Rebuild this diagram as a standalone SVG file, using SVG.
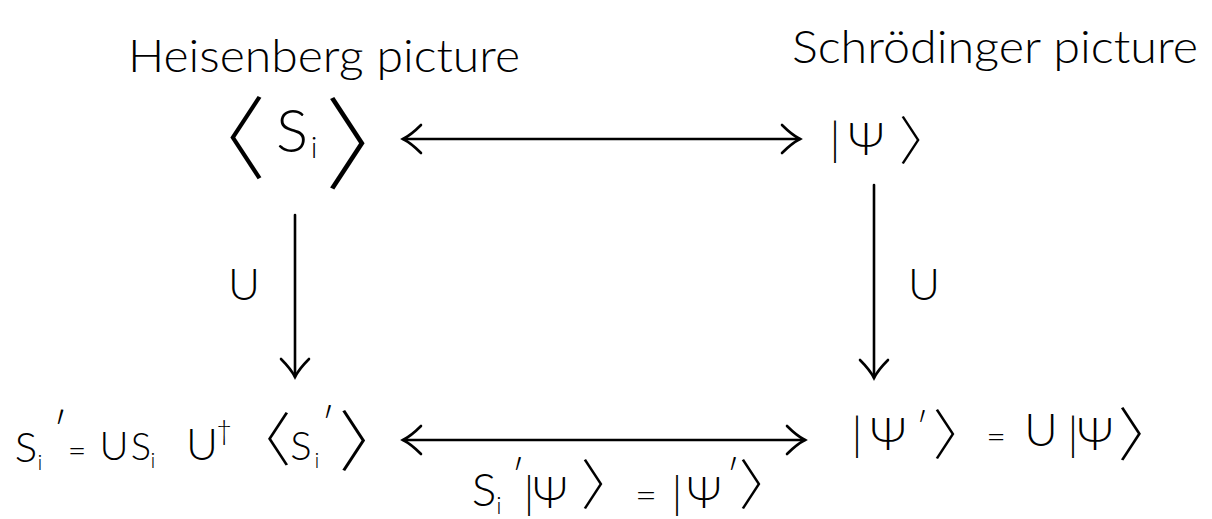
<svg xmlns="http://www.w3.org/2000/svg" width="1212" height="519" viewBox="0 0 1212 519">
  <style>
    .t { font-family: "Lato", "Open Sans", "Liberation Sans", sans-serif; font-weight: 300; fill: #000; }
    .br { font-family: "Noto Sans CJK JP", "Noto Sans CJK SC", "DejaVu Sans", sans-serif; font-weight: 200; }
    .c { stroke: #000; stroke-width: 2.6; fill: none; stroke-linecap: round; }
  </style>
  <defs>
    <marker id="head" viewBox="-20 -16 24 32" markerWidth="24" markerHeight="32" refX="0" refY="0" markerUnits="userSpaceOnUse" orient="auto-start-reverse">
      <path d="M -18 -14 Q -8 -4 0 0 Q -8 4 -18 14" fill="none" stroke="#000" stroke-width="2.6" stroke-linecap="round"/>
    </marker>
  </defs>
  <rect width="1212" height="519" fill="#fff"/>

  <g id="heisenberg-title">
    <text class="t" x="128" y="72" font-size="46" textLength="392" lengthAdjust="spacingAndGlyphs">Heisenberg picture</text>
  </g>
  <g id="schrodinger-title">
    <text class="t" x="792" y="63" font-size="46" textLength="406" lengthAdjust="spacingAndGlyphs">Schrödinger picture</text>
  </g>

  <g id="node-Si" text-anchor="middle">
    <text class="t"><tspan class="br" x="221" y="172" font-size="90">〈</tspan><tspan x="292" y="152" font-size="60">S</tspan><tspan x="314" y="158" font-size="30">i</tspan><tspan class="br" x="375" y="181" font-size="100">〉</tspan></text>
  </g>

  <g id="node-Psi" text-anchor="middle">
    <text class="t"><tspan x="835" y="155" font-size="46">|</tspan><tspan x="866" y="155" font-size="46">Ψ</tspan><tspan class="br" x="925" y="160" font-size="52">〉</tspan></text>
  </g>

  <g id="node-Si-prime" text-anchor="middle">
    <text class="t"><tspan x="26" y="462" font-size="42">S</tspan><tspan x="40" y="470" font-size="22">i</tspan><tspan x="60" y="448" font-size="48">′</tspan><tspan x="77" y="462" font-size="32">=</tspan><tspan x="114" y="460" font-size="40">U</tspan><tspan x="141" y="460" font-size="38">S</tspan><tspan x="153" y="468" font-size="22">i</tspan><tspan x="202" y="460" font-size="44">U</tspan><tspan x="224" y="440" font-size="28">†</tspan><tspan class="br" x="262" y="461" font-size="58">〈</tspan><tspan x="301" y="460" font-size="40">S</tspan><tspan x="317" y="468" font-size="22">i</tspan><tspan x="328" y="440" font-size="44">′</tspan><tspan class="br" x="372" y="466" font-size="66">〉</tspan></text>
  </g>

  <g id="node-Psi-prime" text-anchor="middle">
    <text class="t"><tspan x="857" y="450" font-size="46">|</tspan><tspan x="888" y="450" font-size="46">Ψ</tspan><tspan x="922" y="442" font-size="40">′</tspan><tspan class="br" x="960" y="455" font-size="54">〉</tspan><tspan x="996" y="448" font-size="34">=</tspan><tspan x="1041" y="446" font-size="46">U</tspan><tspan x="1073" y="450" font-size="46">|</tspan><tspan x="1095" y="450" font-size="46">Ψ</tspan><tspan class="br" x="1147" y="456" font-size="58">〉</tspan></text>
  </g>

  <g id="label-U-left">
    <text class="t" x="244" y="300" font-size="44" text-anchor="middle">U</text>
  </g>
  <g id="label-U-right">
    <text class="t" x="924" y="300" font-size="44" text-anchor="middle">U</text>
  </g>

  <g id="label-bottom" text-anchor="middle">
    <text class="t"><tspan x="484" y="506" font-size="46">S</tspan><tspan x="499" y="514" font-size="24">i</tspan><tspan x="518" y="492" font-size="44">′</tspan><tspan x="529" y="508" font-size="44">|</tspan><tspan x="550" y="508" font-size="44">Ψ</tspan><tspan class="br" x="608" y="505" font-size="54">〉</tspan><tspan x="646" y="508" font-size="38">=</tspan><tspan x="677" y="508" font-size="44">|</tspan><tspan x="704" y="508" font-size="44">Ψ</tspan><tspan x="733" y="492" font-size="44">′</tspan><tspan class="br" x="766" y="505" font-size="54">〉</tspan></text>
  </g>

  <g id="connectors">
    <line class="c" x1="403" y1="139" x2="800" y2="139" marker-start="url(#head)" marker-end="url(#head)"/>
    <line class="c" x1="295" y1="215" x2="295" y2="377" marker-end="url(#head)"/>
    <line class="c" x1="874" y1="185" x2="874" y2="378" marker-end="url(#head)"/>
    <line class="c" x1="403" y1="440" x2="805" y2="440" marker-start="url(#head)" marker-end="url(#head)"/>
  </g>
</svg>
